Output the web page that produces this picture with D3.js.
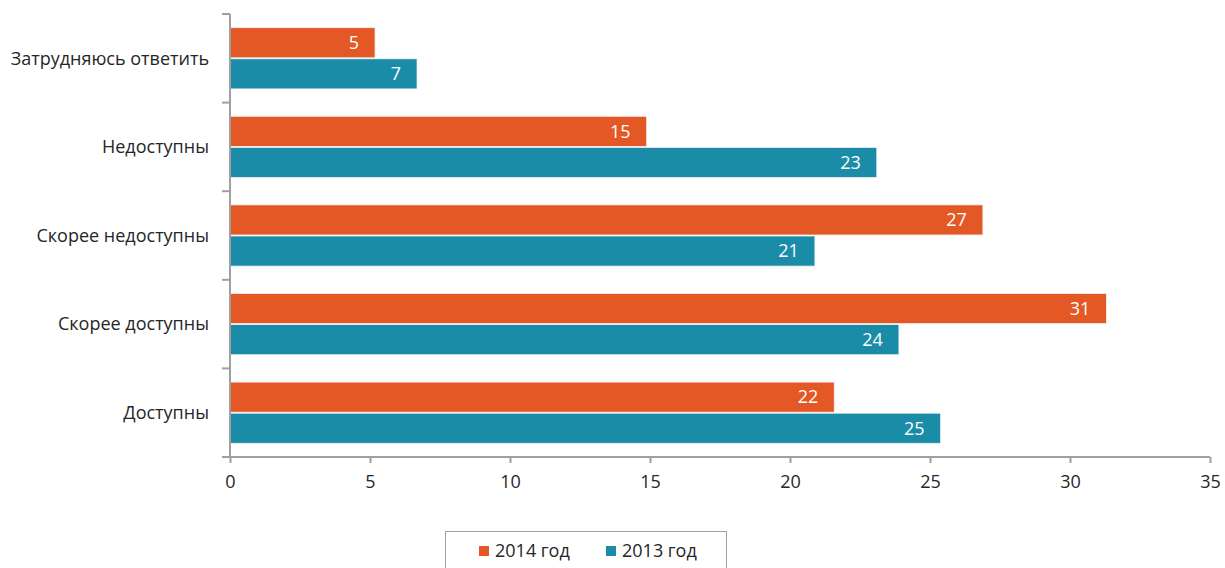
<!DOCTYPE html>
<html>
<head>
<meta charset="utf-8">
<script src="https://cdn.jsdelivr.net/npm/d3@7"></script>
<style>
	body { margin: 0; background: #fff; }
	svg { display: block; font-family: "Open Sans", sans-serif; }
</style>
</head>
<body>
<svg id="chart" width="1225" height="568"></svg>
<script>
	/* Data */
	const categories = ["Затрудняюсь ответить", "Недоступны", "Скорее недоступны", "Скорее доступны", "Доступны"];
	const seriesNames = ["2014 год", "2013 год"];
	const values2014 = [5.18, 14.88, 26.89, 31.3, 21.58];
	const values2013 = [6.68, 23.1, 20.89, 23.89, 25.38];
	const xTicks = [0, 5, 10, 15, 20, 25, 30, 35];
	const colors = ["#E35825", "#1A8CA8"];

	const svg = d3.select("#chart");
	const axisColor = "#a0a0a0";
	const textColor = "#262626";
	const fontSize = "18px";

	// Scales
	let xScale = d3.scaleLinear().domain([0, 35]).range([230, 1210]);
	let yScale = d3.scaleBand().domain(categories).range([14, 457]).padding(0);
	let subScale = d3.scaleBand().domain(seriesNames)
		.range([0, yScale.bandwidth()])
		.paddingInner(0.032)
		.paddingOuter(0.44);
	let colorScale = d3.scaleOrdinal().domain(seriesNames).range(colors);
	let fmt = d3.format(".0f");

	let rows = categories.map(function(c, i) {
		return {
			key: c,
			values: [
				{ key: seriesNames[0], value: values2014[i] },
				{ key: seriesNames[1], value: values2013[i] }
			]
		};
	});

	// Bars
	let groups = svg.selectAll(".group")
		.data(rows)
		.enter()
		.append("g")
		.attr("class", "group")
		.attr("transform", function(d) { return "translate(0," + yScale(d.key) + ")"; });

	groups.selectAll("rect")
		.data(function(d) { return d.values; })
		.enter()
		.append("rect")
		.attr("x", xScale(0))
		.attr("y", function(d) { return subScale(d.key); })
		.attr("width", function(d) { return xScale(d.value) - xScale(0); })
		.attr("height", subScale.bandwidth())
		.attr("fill", function(d) { return colorScale(d.key); })
		.attr("stroke", "#f2f2f2")
		.attr("stroke-width", 0.8);

	groups.selectAll("text")
		.data(function(d) { return d.values; })
		.enter()
		.append("text")
		.attr("x", function(d) { return xScale(d.value) - 16; })
		.attr("y", function(d) { return subScale(d.key) + subScale.bandwidth() / 2; })
		.attr("dy", "0.35em")
		.attr("text-anchor", "end")
		.attr("fill", "#fff")
		.style("font-size", fontSize)
		.text(function(d) { return fmt(d.value); });

	// X axis
	let xAxis = svg.append("g")
		.attr("transform", "translate(0," + yScale.range()[1] + ")")
		.call(d3.axisBottom(xScale).tickValues(xTicks).tickSize(6).tickPadding(12));
	xAxis.select(".domain").attr("stroke", axisColor).attr("stroke-width", 2)
		.attr("d", "M" + xScale(0) + ",0H" + xScale(35));
	xAxis.selectAll(".tick line").attr("stroke", axisColor).attr("stroke-width", 2);
	xAxis.selectAll(".tick text")
		.attr("fill", textColor)
		.style("font-size", fontSize)
		.style("font-family", "'Open Sans', sans-serif");

	// Y axis (ticks at category boundaries)
	let yAxis = svg.append("g");
	let boundaries = categories.map(function(c) { return yScale(c); }).concat([yScale.range()[1]]);
	yAxis.append("line")
		.attr("x1", xScale(0)).attr("x2", xScale(0))
		.attr("y1", yScale.range()[0]).attr("y2", yScale.range()[1])
		.attr("stroke", axisColor).attr("stroke-width", 2);
	yAxis.selectAll(".ytick")
		.data(boundaries)
		.enter()
		.append("line")
		.attr("x1", xScale(0) - 8).attr("x2", xScale(0))
		.attr("y1", function(d) { return d; }).attr("y2", function(d) { return d; })
		.attr("stroke", axisColor).attr("stroke-width", 2);
	yAxis.selectAll(".ylabel")
		.data(categories)
		.enter()
		.append("text")
		.attr("x", xScale(0) - 21)
		.attr("y", function(d) { return yScale(d) + yScale.bandwidth() / 2; })
		.attr("dy", "0.35em")
		.attr("text-anchor", "end")
		.attr("fill", textColor)
		.style("font-size", fontSize)
		.text(function(d) { return d; });

	// Legend
	let legend = svg.append("g");
	legend.append("rect")
		.attr("x", 445.5).attr("y", 531.5)
		.attr("width", 281).attr("height", 50)
		.attr("fill", "#fff")
		.attr("stroke", axisColor).attr("stroke-width", 1);
	let legendX = [479, 606];
	let items = legend.selectAll(".item")
		.data(seriesNames)
		.enter()
		.append("g")
		.attr("transform", function(d, i) { return "translate(" + legendX[i] + ",546)"; });
	items.append("rect")
		.attr("width", 10).attr("height", 10)
		.attr("fill", function(d) { return colorScale(d); });
	items.append("text")
		.attr("x", 16).attr("y", 5)
		.attr("dy", "0.35em")
		.attr("fill", textColor)
		.style("font-size", fontSize)
		.text(function(d) { return d; });
</script>
</body>
</html>
